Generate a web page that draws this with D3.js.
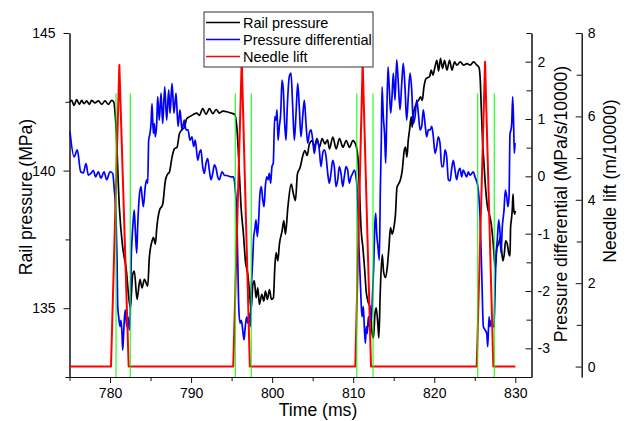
<!DOCTYPE html>
<html>
<head>
<meta charset="utf-8">
<script src="https://cdn.jsdelivr.net/npm/d3@7"></script>
<style>
  body { margin: 0; background: #fff; }
  text { font-family: "Liberation Sans", Arial, sans-serif; }
</style>
</head>
<body>
<div id="chart"></div>
<script>
// [time (ms), rail pressure (MPa)]
const railPressure = [
  [775.06,142.49],[775.27,142.55],[775.56,142.37],[775.89,142.58],[776.21,142.41],[776.51,142.55],
  [776.79,142.43],[777.12,142.53],[777.44,142.41],[777.74,142.55],[778.15,142.46],[778.56,142.53],
  [778.98,142.41],[779.38,142.53],[779.79,142.41],[780.21,142.55],[780.46,142.49],[780.74,141.58],
  [781.15,138.66],[781.57,137.2],[781.98,136.47],[782.5,135.01],[782.8,136.23],[783.0,136.35],
  [783.33,135.32],[783.7,136.05],[783.95,135.74],[784.24,136.05],[784.65,135.8],[784.85,136.84],
  [785.19,137.45],[785.35,137.57],[785.6,137.33],[785.77,137.93],[786.09,138.54],[786.5,138.78],
  [786.83,139.64],[787.12,139.88],[787.32,139.94],[787.65,140.49],[787.94,140.79],[788.27,140.85],
  [788.56,141.34],[788.89,141.49],[789.17,141.56],[789.47,141.89],[789.88,141.97],[790.28,142.04],
  [790.7,142.09],[791.02,142.01],[791.44,142.25],[791.85,142.04],[792.26,142.25],[792.68,142.07],
  [793.09,142.22],[793.49,142.09],[793.91,142.16],[794.53,142.13],[795.15,142.07],[795.4,142.04],
  [795.76,141.09],[795.96,139.88],[796.17,138.66],[796.46,137.69],[796.7,136.72],[797.0,136.23],
  [797.2,135.62],[797.41,134.95],[797.62,135.86],[797.81,135.99],[798.02,135.38],[798.23,135.74],
  [798.43,135.14],[798.73,135.5],[798.98,135.26],[799.17,135.62],[799.42,135.32],[799.67,135.68],
  [799.91,135.32],[800.16,135.38],[800.33,136.47],[800.49,137.02],[800.7,136.72],[800.9,137.33],
  [801.23,137.81],[801.44,138.18],[801.64,137.69],[801.94,138.66],[802.35,139.51],[802.63,139.15],
  [802.88,138.91],[803.12,139.88],[803.46,140.12],[803.79,140.55],[804.04,140.73],[804.32,140.55],
  [804.6,140.97],[804.94,141.09],[805.22,140.85],[805.52,141.16],[805.84,140.85],[806.17,141.16],
  [806.51,140.97],[806.83,141.12],[807.08,140.79],[807.49,141.22],[807.9,140.79],[808.31,141.16],
  [808.73,140.85],[809.14,141.09],[809.54,140.85],[809.96,141.09],[810.28,140.97],[810.58,140.49],
  [810.78,139.27],[810.99,137.81],[811.2,137.2],[811.4,136.47],[811.6,135.62],[811.81,135.26],
  [812.1,135.01],[812.31,134.16],[812.5,133.92],[812.68,134.77],[812.84,135.01],[813.05,134.4],
  [813.17,133.92],[813.33,135.5],[813.58,136.96],[813.74,136.35],[813.99,136.11],[814.2,136.47],
  [814.41,137.2],[814.6,137.93],[814.81,137.69],[815.02,137.93],[815.22,138.42],[815.4,139.39],
  [815.59,139.51],[815.8,139.64],[816.05,140.0],[816.3,140.73],[816.46,140.85],[816.63,140.49],
  [816.79,141.09],[816.95,141.46],[817.16,141.95],[817.28,141.58],[817.44,142.07],[817.78,142.43],
  [818.06,142.55],[818.31,142.68],[818.52,142.55],[818.73,143.04],[819.01,143.35],[819.42,143.41],
  [819.63,143.65],[819.84,143.47],[820.09,143.77],[820.33,144.01],[820.53,143.62],[820.78,144.08],
  [821.02,143.71],[821.27,144.01],[821.57,143.65],[821.89,144.01],[822.19,143.65],[822.51,143.95],
  [822.8,143.83],[823.21,143.95],[823.62,143.83],[824.04,143.89],[824.44,143.83],[824.85,143.95],
  [825.27,143.83],[825.52,143.75],[825.68,143.28],[825.8,142.31],[825.96,141.09],[826.14,140.24],
  [826.33,139.39],[826.58,138.66],[826.79,138.42],[827.04,138.05],[827.25,137.45],[827.53,136.47],
  [827.74,137.2],[827.94,137.33],[828.15,137.57],[828.36,136.96],[828.48,136.72],[828.64,136.96],
  [828.8,137.45],[829.01,137.33],[829.22,136.96],[829.35,136.9],[829.42,137.93],[829.55,138.3],
  [829.63,138.6],[829.72,139.15],[829.79,138.66],[829.92,138.42],[830.0,138.54]
];

// [time (ms), pressure differential (MPa/s/10000)]
const pressureDiff = [
  [775.06,0.78],[775.56,0.34],[775.96,0.46],[776.38,0.08],[776.7,0.06],[777.04,0.22],
  [777.32,0.02],[777.62,0.05],[777.94,0.1],[778.23,-0.01],[778.55,0.08],[778.89,-0.03],
  [779.26,0.08],[779.59,-0.06],[780.0,0.08],[780.33,0.05],[780.53,-0.24],[780.74,-0.7],
  [780.86,-1.4],[780.95,-2.27],[781.07,-2.45],[781.23,-2.62],[781.35,-2.51],[781.48,-2.74],
  [781.56,-3.03],[781.64,-2.85],[781.76,-2.51],[781.88,-2.33],[782.06,-2.62],[782.22,-2.45],
  [782.38,-2.68],[782.5,-2.39],[782.62,-1.4],[782.71,-1.11],[782.87,-0.76],[782.99,-0.59],
  [783.12,-0.94],[783.29,-1.34],[783.41,-0.88],[783.61,-0.35],[783.82,-0.18],[783.95,-0.35],
  [784.11,-0.53],[784.35,-0.18],[784.52,-0.06],[784.65,-0.12],[784.77,0.63],[784.93,0.75],
  [785.06,0.92],[785.18,1.27],[785.34,0.75],[785.46,0.92],[785.59,0.69],[785.76,0.92],
  [785.88,1.39],[786.08,0.98],[786.29,1.45],[786.5,0.92],[786.75,1.56],[786.99,0.98],
  [787.24,1.51],[787.4,1.1],[787.65,1.62],[787.89,1.1],[788.14,1.45],[788.39,0.87],
  [788.63,1.16],[788.88,0.81],[789.16,0.98],[789.37,0.81],[789.62,0.81],[789.87,0.63],
  [790.11,0.69],[790.32,0.52],[790.52,0.63],[790.82,0.28],[791.01,0.4],[791.22,0.46],
  [791.43,0.17],[791.63,0.05],[791.84,0.23],[792.05,0.31],[792.25,0.11],[792.46,-0.06],
  [792.67,0.05],[792.87,0.2],[793.08,0.14],[793.29,-0.01],[793.48,-0.06],[793.82,0.08],
  [794.1,0.02],[794.52,0.01],[794.93,-0.01],[795.21,-0.01],[795.33,-0.06],[795.46,-0.24],
  [795.63,-0.64],[795.75,-1.4],[795.88,-2.27],[796.04,-2.56],[796.2,-2.51],[796.37,-2.68],
  [796.53,-2.85],[796.69,-2.62],[796.86,-2.45],[797.02,-2.56],[797.18,-2.39],[797.31,-2.62],
  [797.43,-1.98],[797.6,-1.46],[797.73,-1.05],[797.85,-0.94],[798.01,-0.76],[798.17,-1.05],
  [798.34,-0.76],[798.5,-0.3],[798.66,-0.18],[798.84,-0.41],[799.0,-0.53],[799.16,-0.18],
  [799.33,-0.01],[799.49,-0.06],[799.65,0.05],[799.82,-0.12],[799.98,0.17],[800.14,0.23],
  [800.32,1.04],[800.48,0.98],[800.6,1.16],[800.73,0.63],[800.89,0.87],[801.06,1.1],
  [801.22,1.68],[801.38,1.51],[801.55,0.92],[801.71,0.63],[801.87,1.21],[802.12,1.74],
  [802.33,1.8],[802.54,1.21],[802.74,0.63],[802.95,1.1],[803.16,1.62],[803.35,1.21],
  [803.56,0.69],[803.77,1.04],[803.97,1.33],[804.18,0.92],[804.39,0.58],[804.59,0.75],
  [804.8,0.81],[805.01,0.63],[805.2,0.4],[805.41,0.58],[805.62,0.63],[805.82,0.46],
  [806.03,0.17],[806.24,0.4],[806.44,0.46],[806.65,0.35],[806.86,0.05],[807.05,-0.12],
  [807.26,0.05],[807.47,0.28],[807.67,0.17],[807.88,-0.18],[808.09,-0.06],[808.29,0.17],
  [808.5,0.05],[808.71,-0.18],[808.9,-0.01],[809.11,0.17],[809.32,0.11],[809.52,-0.12],
  [809.73,-0.01],[809.94,0.05],[810.14,0.11],[810.35,-0.01],[810.56,-0.41],[810.68,-1.11],
  [810.84,-1.69],[810.97,-2.16],[811.09,-2.45],[811.25,-2.27],[811.37,-2.62],[811.5,-2.91],
  [811.62,-2.62],[811.74,-2.74],[811.87,-2.45],[811.99,-2.62],[812.11,-2.27],[812.24,-2.51],
  [812.41,-1.98],[812.53,-1.58],[812.66,-0.88],[812.78,-0.64],[812.9,-0.99],[813.06,-1.23],
  [813.22,-1.46],[813.35,-0.24],[813.47,0.63],[813.56,1.56],[813.72,1.04],[813.89,0.69],
  [814.01,0.23],[814.14,1.04],[814.3,1.91],[814.46,1.51],[814.63,1.1],[814.79,1.39],
  [814.95,1.8],[815.16,1.33],[815.37,2.03],[815.57,1.62],[815.78,1.16],[815.99,1.62],
  [816.18,1.97],[816.39,1.56],[816.6,0.98],[816.8,1.39],[817.01,1.8],[817.22,1.51],
  [817.42,0.92],[817.63,1.04],[817.84,1.33],[818.04,1.1],[818.25,0.81],[818.45,0.87],
  [818.65,1.16],[818.86,0.92],[819.07,0.69],[819.27,0.81],[819.48,0.81],[819.69,0.87],
  [819.89,0.69],[820.1,0.4],[820.31,0.52],[820.5,0.69],[820.71,0.58],[820.92,0.17],
  [821.12,0.17],[821.33,0.46],[821.54,0.34],[821.74,-0.06],[821.95,-0.08],[822.16,0.14],
  [822.35,0.28],[822.56,0.11],[822.77,-0.06],[822.97,0.08],[823.18,0.14],[823.39,-0.01],
  [823.58,0.11],[823.79,0.05],[824.01,-0.01],[824.2,0.08],[824.41,0.02],[824.62,0.05],
  [824.82,0.08],[825.03,-0.01],[825.24,-0.09],[825.44,-0.24],[825.65,-0.7],[825.86,-1.69],
  [826.06,-2.62],[826.27,-2.68],[826.48,-2.74],[826.6,-2.97],[826.76,-2.45],[826.88,-2.62],
  [827.04,-2.51],[827.21,-2.62],[827.37,-2.62],[827.5,-2.04],[827.62,-1.4],[827.78,-1.11],
  [827.96,-0.76],[828.12,-0.99],[828.24,-1.34],[828.4,-0.88],[828.61,-0.59],[828.77,-0.24],
  [828.94,-0.35],[829.1,-0.53],[829.23,-0.35],[829.35,0.75],[829.47,0.81],[829.56,0.92],
  [829.68,1.39],[829.81,0.81],[829.88,0.4],[829.97,0.58]
];

// [time (ms), needle lift (m/10000)]
const needleLift = [
  [775,0],[780.12,0],[781.15,7.23],[782.3,0],
  [795.2,0],[796.25,7.35],[797.25,0],
  [810.26,0],[811.17,7.3],[812.2,0],
  [825.24,0],[826.27,7.31],[827.29,0],[830,0]
];

// start / end markers of each injection (ms)
const markers = [780.74, 782.5, 795.46, 797.43, 810.44, 812.45, 825.36, 827.41];
const markerTop = 6.55;

const timeTicks = [780, 790, 800, 810, 820, 830];
const timeMinor = [775, 785, 795, 805, 815, 825];
const railTicks = [135, 140, 145];
const railMinor = [132.5, 137.5, 142.5];
const diffTicks = [-3, -2, -1, 0, 1, 2];
const diffMinor = [-3.5, -2.5, -1.5, -0.5, 0.5, 1.5, 2.5];
const liftTicks = [0, 2, 4, 6, 8];
const liftMinor = [1, 3, 5, 7];

const legendItems = [
  { name: "Rail pressure", color: "#000000" },
  { name: "Pressure differential", color: "#0000ff" },
  { name: "Needle lift", color: "#ff0000" }
];

const WIDTH = 632;
const HEIGHT = 421;
const TOP = 33, BOTTOM = 377, LEFT = 69.5, RIGHT = 531.5, OUTER = 581.7;

const svg = d3.select("#chart").append("svg")
  .attr("width", WIDTH).attr("height", HEIGHT);

const x = d3.scaleLinear().domain([775, 832]).range([LEFT, RIGHT]);
const yRail = d3.scaleLinear().domain([132.5, 145]).range([BOTTOM, TOP]);
const yDiff = d3.scaleLinear().domain([-3.5, 2.5]).range([BOTTOM, TOP]);
const yLift = d3.scaleLinear().domain([-0.25, 8]).range([BOTTOM, TOP]);

function styleAxis(g) {
  g.selectAll("path, line").attr("stroke", "#111").attr("stroke-width", 1);
  g.selectAll("text").attr("font-size", 14).attr("fill", "#000")
    .style("font-family", '"Liberation Sans", Arial, sans-serif');
}

// bottom
svg.append("g").attr("transform", `translate(0,${BOTTOM})`)
  .call(d3.axisBottom(x).tickValues(timeMinor).tickSize(4).tickSizeOuter(0).tickFormat(""))
  .call(styleAxis);
svg.append("g").attr("transform", `translate(0,${BOTTOM})`)
  .call(d3.axisBottom(x).tickValues(timeTicks).tickSize(6).tickSizeOuter(0).tickPadding(5))
  .call(styleAxis);

// left
svg.append("g").attr("transform", `translate(${LEFT},0)`)
  .call(d3.axisLeft(yRail).tickValues(railMinor).tickSize(4).tickSizeOuter(0).tickFormat(""))
  .call(styleAxis);
svg.append("g").attr("transform", `translate(${LEFT},0)`)
  .call(d3.axisLeft(yRail).tickValues(railTicks).tickSize(6).tickSizeOuter(0).tickPadding(8))
  .call(styleAxis);

// inner right (pressure differential)
svg.append("g").attr("transform", `translate(${RIGHT},0)`)
  .call(d3.axisRight(yDiff).tickValues(diffMinor).tickSize(-5).tickSizeOuter(0).tickFormat(""))
  .call(styleAxis);
svg.append("g").attr("transform", `translate(${RIGHT},0)`)
  .call(d3.axisRight(yDiff).tickValues(diffTicks).tickSize(-6).tickSizeOuter(0).tickPadding(6)
    .tickFormat(d => String(d)))
  .call(styleAxis);

// outer right (needle lift)
svg.append("g").attr("transform", `translate(${OUTER},0)`)
  .call(d3.axisRight(yLift).tickValues(liftMinor).tickSize(-5).tickSizeOuter(0).tickFormat(""))
  .call(styleAxis);
svg.append("g").attr("transform", `translate(${OUTER},0)`)
  .call(d3.axisRight(yLift).tickValues(liftTicks).tickSize(-6).tickSizeOuter(0).tickPadding(6))
  .call(styleAxis);

// series
const railLine = d3.line().curve(d3.curveMonotoneX).x(d => x(d[0])).y(d => yRail(d[1]));
const diffLine = d3.line().curve(d3.curveMonotoneX).x(d => x(d[0])).y(d => yDiff(d[1]));
const liftLine = d3.line().x(d => x(d[0])).y(d => yLift(d[1]));

svg.append("path").datum(railPressure).attr("d", railLine)
  .attr("fill", "none").attr("stroke", "#000").attr("stroke-width", 1.7).attr("stroke-linejoin", "round");
svg.append("path").datum(pressureDiff).attr("d", diffLine)
  .attr("fill", "none").attr("stroke", "#0000ff").attr("stroke-width", 1.7).attr("stroke-linejoin", "round");
svg.append("path").datum(needleLift).attr("d", liftLine)
  .attr("fill", "none").attr("stroke", "#ff0000").attr("stroke-width", 2).attr("stroke-linejoin", "round");

svg.selectAll(".marker").data(markers).enter().append("line")
  .attr("class", "marker")
  .attr("x1", d => x(d)).attr("x2", d => x(d))
  .attr("y1", yLift(markerTop)).attr("y2", yLift(-0.25))
  .attr("stroke", "#00ff00").attr("stroke-opacity", 0.8).attr("stroke-width", 1.3);

// legend
const legend = svg.append("g").attr("transform", "translate(204,12)");
legend.append("rect").attr("width", 169).attr("height", 55)
  .attr("fill", "#fff").attr("stroke", "#333").attr("stroke-width", 1);
const li = legend.selectAll(".li").data(legendItems).enter().append("g")
  .attr("transform", (d, i) => `translate(0,${10.5 + i * 17})`);
li.append("line").attr("x1", 2).attr("x2", 36)
  .attr("stroke", d => d.color).attr("stroke-width", 1.7);
li.append("text").attr("x", 39).attr("dy", "0.35em")
  .attr("font-size", 14.5).text(d => d.name);

// axis titles
svg.append("text").attr("transform", "translate(26,197) rotate(-90)")
  .attr("text-anchor", "middle").attr("dy", "0.35em").attr("font-size", 17.6)
  .text("Rail pressure (MPa)");
svg.append("text").attr("transform", "translate(561,204) rotate(-90)")
  .attr("text-anchor", "middle").attr("dy", "0.35em").attr("font-size", 17.6)
  .text("Pressure differential (MPa/s/10000)");
svg.append("text").attr("transform", "translate(610,181) rotate(-90)")
  .attr("text-anchor", "middle").attr("dy", "0.35em").attr("font-size", 17.6)
  .text("Needle lift (m/10000)");
svg.append("text").attr("x", 318).attr("y", 410)
  .attr("text-anchor", "middle").attr("dy", "0.35em").attr("font-size", 17.6)
  .text("Time (ms)");
</script>
</body>
</html>
